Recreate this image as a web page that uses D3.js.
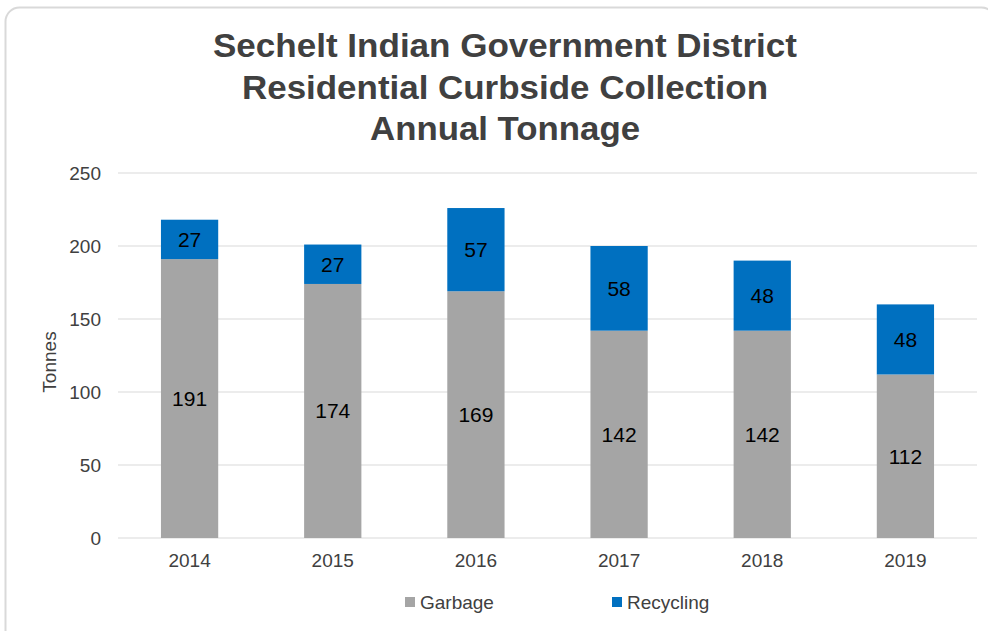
<!DOCTYPE html>
<html>
<head>
<meta charset="utf-8">
<script src="https://cdn.jsdelivr.net/npm/d3@7"></script>
<style>
  body { margin: 0; background: #fff; }
  svg { display: block; font-family: "Liberation Sans", Arial, sans-serif; }
</style>
</head>
<body>
<svg id="chart" width="988" height="631"></svg>
<script>
const years = ['2014', '2015', '2016', '2017', '2018', '2019'];
const garbage = [191, 174, 169, 142, 142, 112];
const recycling = [27, 27, 57, 58, 48, 48];
const seriesNames = ['Garbage', 'Recycling'];
const seriesColors = ['#a5a5a5', '#0070c0'];
const yTicks = [0, 50, 100, 150, 200, 250];
const titleLines = ['Sechelt Indian Government District', 'Residential Curbside Collection', 'Annual Tonnage'];
const titleWidths = [584, 526, 270];

const svg = d3.select('#chart');
const margin = { top: 173, right: 11, bottom: 93, left: 118 };
const width = 988 - margin.left - margin.right;
const height = 631 - margin.top - margin.bottom;
const fontStack = '"Liberation Sans", Arial, sans-serif';

// card border
svg.append('rect')
  .attr('x', 5.5).attr('y', 7.5)
  .attr('width', 990).attr('height', 640)
  .attr('rx', 14)
  .attr('fill', '#fff')
  .attr('stroke', '#d9d9d9')
  .attr('stroke-width', 2);

// title
svg.append('text')
  .attr('text-anchor', 'middle')
  .attr('font-weight', 'bold')
  .attr('font-size', 33)
  .attr('fill', '#404040')
  .selectAll('tspan')
  .data(titleLines)
  .enter().append('tspan')
  .attr('x', 505)
  .attr('y', function (d, i) { return 57 + i * 41.5; })
  .attr('textLength', function (d, i) { return titleWidths[i]; })
  .attr('lengthAdjust', 'spacingAndGlyphs')
  .text(function (d) { return d; });

const g = svg.append('g').attr('transform', `translate(${margin.left},${margin.top})`);

const x = d3.scaleBand().domain(years).range([0, width]).paddingInner(0.6).paddingOuter(0.3);
const y = d3.scaleLinear().domain([0, 250]).range([height, 0]);

// gridlines
g.selectAll('.grid')
  .data(yTicks)
  .enter().append('line')
  .attr('x1', 0).attr('x2', width)
  .attr('y1', function (d) { return y(d); })
  .attr('y2', function (d) { return y(d); })
  .attr('stroke', '#d9d9d9')
  .attr('stroke-width', 1);

// y axis
const yAxis = g.append('g').call(d3.axisLeft(y).tickValues(yTicks).tickSize(0).tickPadding(17));
yAxis.select('.domain').remove();
yAxis.selectAll('text').attr('font-size', 19).attr('fill', '#404040').attr('font-family', fontStack);

// x axis
const xAxis = g.append('g')
  .attr('transform', `translate(0,${height})`)
  .call(d3.axisBottom(x).tickSize(0).tickPadding(16));
xAxis.select('.domain').remove();
xAxis.selectAll('text').attr('font-size', 19).attr('fill', '#404040').attr('font-family', fontStack);

// stacked bars
const rows = years.map(function (yr, i) {
  return { year: yr, Garbage: garbage[i], Recycling: recycling[i] };
});
const stacked = d3.stack().keys(seriesNames)(rows);

const layers = g.selectAll('.layer')
  .data(stacked)
  .enter().append('g')
  .attr('fill', function (d, i) { return seriesColors[i]; });

layers.selectAll('rect')
  .data(function (d) { return d; })
  .enter().append('rect')
  .attr('x', function (d) { return x(d.data.year); })
  .attr('y', function (d) { return y(d[1]); })
  .attr('width', x.bandwidth())
  .attr('height', function (d) { return y(d[0]) - y(d[1]); });

layers.selectAll('text')
  .data(function (d) { return d; })
  .enter().append('text')
  .attr('x', function (d) { return x(d.data.year) + x.bandwidth() / 2; })
  .attr('y', function (d) { return (y(d[0]) + y(d[1])) / 2; })
  .attr('dy', '0.35em')
  .attr('text-anchor', 'middle')
  .attr('font-size', 21)
  .attr('fill', '#000')
  .text(function (d) { return d[1] - d[0]; });

// y axis title
svg.append('text')
  .attr('transform', 'translate(56,362) rotate(-90)')
  .attr('text-anchor', 'middle')
  .attr('font-size', 19)
  .attr('fill', '#404040')
  .text('Tonnes');

// legend
const legendX = [405, 612];
const legend = svg.selectAll('.legend')
  .data(seriesNames)
  .enter().append('g')
  .attr('transform', function (d, i) { return `translate(${legendX[i]},602)`; });

legend.append('rect')
  .attr('x', 0).attr('y', -5)
  .attr('width', 10).attr('height', 10)
  .attr('fill', function (d, i) { return seriesColors[i]; });

legend.append('text')
  .attr('x', 15)
  .attr('dy', '0.35em')
  .attr('font-size', 19)
  .attr('fill', '#404040')
  .text(function (d) { return d; });
</script>
</body>
</html>
